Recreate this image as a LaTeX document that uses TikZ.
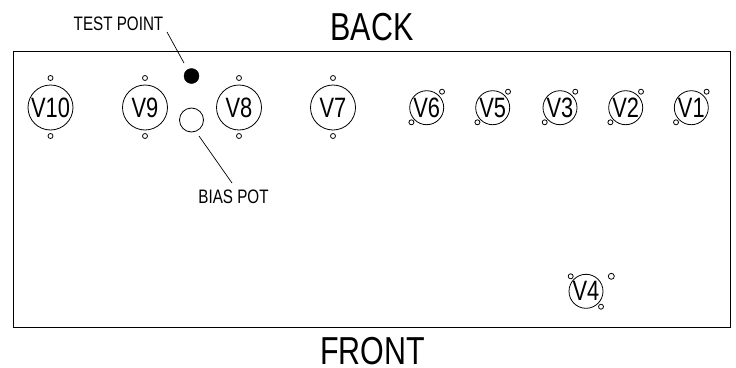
\documentclass[tikz,border=0pt]{standalone}
\usepackage{fontspec}
\newfontfamily\narrowfont[FakeStretch=0.78]{Liberation Sans}
\tikzset{
  lbl/.style={font=\narrowfont\fontsize{#1}{#1}\selectfont,inner sep=0pt,text=black},
  bigtube/.style={circle,draw=black,line width=0.8pt,minimum size=45pt,lbl=28},
  smalltube/.style={circle,draw=black,line width=0.8pt,minimum size=34pt,lbl=28},
  hole/.style={circle,draw=black,line width=0.8pt,minimum size=5pt,inner sep=0pt},
  leader/.style={draw=black,line width=0.7pt}
}
\begin{document}
\begin{tikzpicture}[x=1pt,y=-1pt]
\useasboundingbox (0,0) rectangle (736,367);
\node[draw=black,line width=0.9pt,minimum width=717.5pt,minimum height=276pt,inner sep=0pt,anchor=north west] (chassis) at (12.5,51) {};
\node[lbl=39] (back) at (372,27) {BACK};
\node[lbl=39] (front) at (372.5,351) {FRONT};
\foreach \n/\x in {V10/50.5,V9/145,V8/239,V7/333}{
  \node[bigtube] (\n) at (\x,107.5) {\n};
  \node[hole] (\n a) at (\x,78) {};
  \node[hole] (\n b) at (\x,136) {};
}
\foreach \n/\x in {V6/426.7,V5/492.7,V3/560,V2/625.7,V1/691.3}{
  \node[smalltube] (\n) at (\x,107.7) {\n};
  \node[hole] (\n a) at (\x+15.3,91.7) {};
  \node[hole] (\n b) at (\x-15.3,122.3) {};
}
\node[smalltube] (V4) at (586,291.3) {V4};
\node[hole] (V4a) at (570.7,276.3) {};
\node[hole] (V4b) at (601,306.7) {};
\node[hole,minimum size=6pt] (V4c) at (611.3,276.3) {};
\node[circle,fill=black,draw=black,minimum size=15pt,inner sep=0pt] (tp) at (191.5,76) {};
\node[circle,draw=black,line width=0.8pt,minimum size=24pt,inner sep=0pt] (pot) at (191.5,120) {};
\node[lbl=19.5] (tpl) at (118.5,24) {TEST POINT};
\node[lbl=19.5] (potl) at (233.5,197) {BIAS POT};
\coordinate (tpa) at (167,32);
\coordinate (tpb) at (184,63);
\coordinate (pota) at (199,136);
\coordinate (potb) at (232,183);
\draw[leader] (tpa) -- (tpb);
\draw[leader] (pota) -- (potb);
\end{tikzpicture}
\end{document}
